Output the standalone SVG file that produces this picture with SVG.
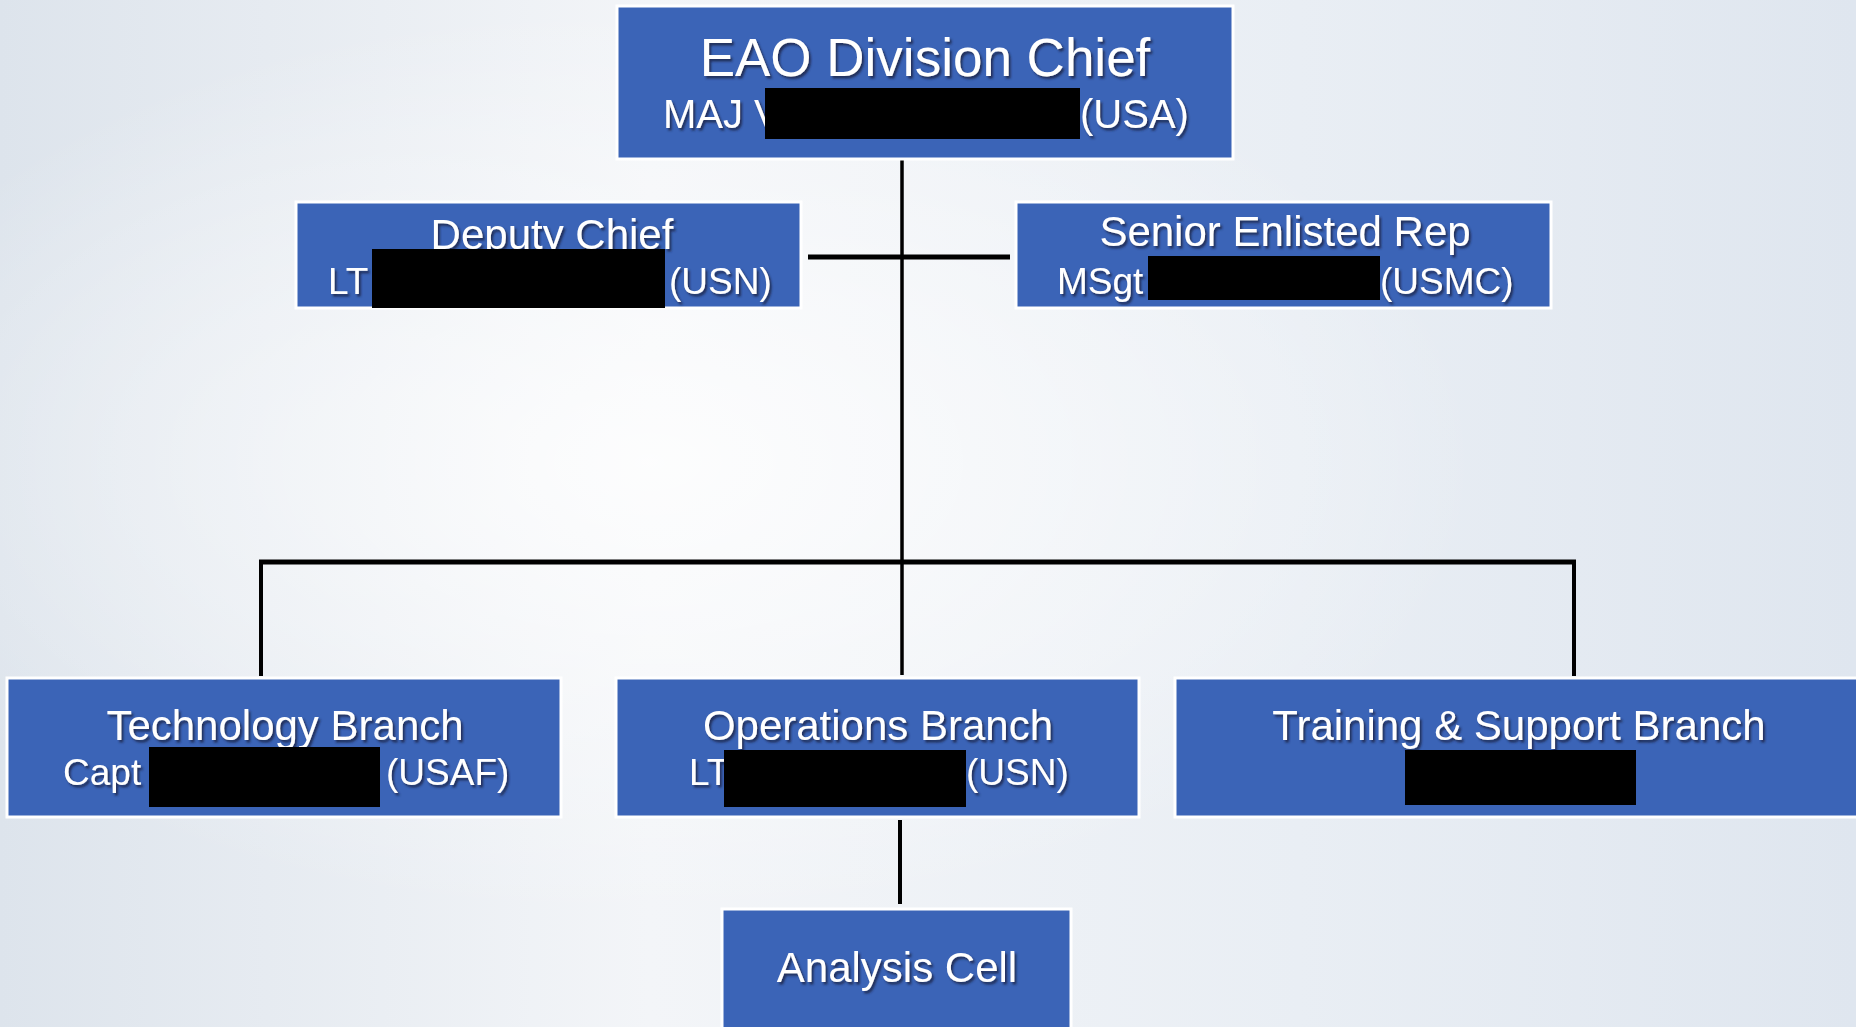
<svg xmlns="http://www.w3.org/2000/svg" width="1856" height="1027" viewBox="0 0 1856 1027">
<defs>
<linearGradient id="bg" x1="0" y1="0" x2="1" y2="0">
<stop offset="0" stop-color="#dde4ec"/>
<stop offset="0.35" stop-color="#f3f5f8"/>
<stop offset="0.7" stop-color="#e9eef4"/>
<stop offset="1" stop-color="#dfe6ef"/>
</linearGradient>
<radialGradient id="glow" cx="0.35" cy="0.45" r="0.45">
<stop offset="0" stop-color="#ffffff" stop-opacity="0.8"/>
<stop offset="1" stop-color="#ffffff" stop-opacity="0"/>
</radialGradient>
<filter id="sh" x="-5%" y="-20%" width="110%" height="140%">
<feDropShadow dx="2" dy="2.5" stdDeviation="1.2" flood-color="#1a2a50" flood-opacity="0.9"/>
</filter>
</defs>
<style>
.box{fill:#3b64b7;stroke:#ffffff;stroke-width:3}
.t{font-family:"Liberation Sans",Arial,sans-serif;fill:#ffffff;filter:url(#sh)}
.h{font-size:42px;text-anchor:middle}
.s{font-size:37px}
.red{fill:#000000}
.ln{stroke:#000000;fill:none}
</style>
<rect width="1856" height="1027" fill="url(#bg)"/>
<rect width="1856" height="1027" fill="url(#glow)"/>

<g id="connectors">
<line class="ln" x1="902" y1="159" x2="902" y2="675" stroke-width="3.5"/>
<line class="ln" x1="808" y1="257" x2="1010" y2="257" stroke-width="5"/>
<line class="ln" x1="259" y1="562" x2="1576" y2="562" stroke-width="5"/>
<line class="ln" x1="261" y1="560" x2="261" y2="676" stroke-width="4"/>
<line class="ln" x1="1574" y1="560" x2="1574" y2="676" stroke-width="4"/>
<line class="ln" x1="900" y1="820" x2="900" y2="904" stroke-width="4"/>
</g>

<g id="chief">
<rect class="box" x="617" y="6" width="616" height="153"/>
<text class="t" x="925" y="76" font-size="53" text-anchor="middle">EAO Division Chief</text>
<text class="t" x="663" y="128" font-size="40">MAJ V</text>
<text class="t" x="1080" y="128" font-size="40">(USA)</text>
<rect class="red" x="765" y="88" width="315" height="51"/>
</g>

<g id="deputy">
<rect class="box" x="296" y="202" width="505" height="106"/>
<text class="t h" x="552" y="249">Deputy Chief</text>
<text class="t s" x="328" y="294">LT</text>
<text class="t s" x="669" y="294">(USN)</text>
<rect class="red" x="372" y="249" width="293" height="59"/>
</g>

<g id="senior">
<rect class="box" x="1016" y="202" width="535" height="106"/>
<text class="t h" x="1285" y="246">Senior Enlisted Rep</text>
<text class="t s" x="1057" y="294">MSgt</text>
<text class="t s" x="1380" y="294">(USMC)</text>
<rect class="red" x="1148" y="256" width="232" height="44"/>
</g>

<g id="technology">
<rect class="box" x="7" y="678" width="554" height="139"/>
<text class="t h" x="285" y="740">Technology Branch</text>
<text class="t s" x="63" y="785">Capt</text>
<text class="t s" x="386" y="785">(USAF)</text>
<rect class="red" x="149" y="747" width="231" height="60"/>
</g>

<g id="operations">
<rect class="box" x="616" y="678" width="523" height="139"/>
<text class="t h" x="878" y="740">Operations Branch</text>
<text class="t s" x="689" y="785">LT</text>
<text class="t s" x="966" y="785">(USN)</text>
<rect class="red" x="724" y="750" width="242" height="57"/>
</g>

<g id="training">
<rect class="box" x="1175" y="678" width="684" height="139"/>
<text class="t h" x="1519" y="740">Training &amp; Support Branch</text>
<rect class="red" x="1405" y="750" width="231" height="55"/>
</g>

<g id="analysis">
<rect class="box" x="722" y="909" width="349" height="122"/>
<text class="t h" x="897" y="982">Analysis Cell</text>
</g>
</svg>
